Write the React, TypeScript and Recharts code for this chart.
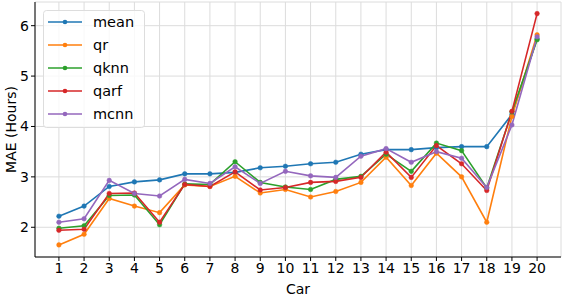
import {
  LineChart,
  Line,
  XAxis,
  YAxis,
  CartesianGrid,
} from "recharts";

const cars = [1, 2, 3, 4, 5, 6, 7, 8, 9, 10, 11, 12, 13, 14, 15, 16, 17, 18, 19, 20];

const mean = [2.22, 2.42, 2.81, 2.9, 2.94, 3.06, 3.06, 3.09, 3.18, 3.21, 3.26, 3.29, 3.45, 3.54, 3.54, 3.58, 3.6, 3.6, 4.24, 5.74];
const qr = [1.65, 1.86, 2.57, 2.42, 2.29, 2.84, 2.81, 3.01, 2.68, 2.75, 2.6, 2.71, 2.89, 3.39, 2.83, 3.47, 3.0, 2.1, 4.2, 5.82];
const qknn = [1.98, 2.03, 2.63, 2.64, 2.05, 2.86, 2.85, 3.3, 2.89, 2.8, 2.75, 2.95, 3.01, 3.45, 3.11, 3.67, 3.52, 2.78, 4.29, 5.72];
const qarf = [1.94, 1.96, 2.67, 2.68, 2.1, 2.85, 2.81, 3.1, 2.74, 2.79, 2.89, 2.91, 2.99, 3.49, 2.99, 3.62, 3.26, 2.73, 4.3, 6.24];
const mcnn = [2.1, 2.17, 2.93, 2.67, 2.62, 2.95, 2.87, 3.2, 2.87, 3.11, 3.02, 2.99, 3.41, 3.56, 3.29, 3.5, 3.37, 2.79, 4.03, 5.78];

const yTicks = [2, 3, 4, 5, 6];

const series = [
  { key: "mean", color: "#1f77b4" },
  { key: "qr", color: "#ff7f0e" },
  { key: "qknn", color: "#2ca02c" },
  { key: "qarf", color: "#d62728" },
  { key: "mcnn", color: "#9467bd" },
];

const data = cars.map((car, i) => ({
  car,
  mean: mean[i],
  qr: qr[i],
  qknn: qknn[i],
  qarf: qarf[i],
  mcnn: mcnn[i],
}));

const font = "DejaVu Sans, sans-serif";

function LegendBox() {
  return (
    <svg width={102} height={118} style={{ position: "absolute", left: 43, top: 10 }}>
      <rect x={0.5} y={0.5} width={101} height={117} rx={3} fill="#fff" fillOpacity={0.8} stroke="#ddd" />
      {series.map((s, i) => {
        const y = 12 + i * 23;
        return (
          <g key={s.key}>
            <line x1={5} x2={39} y1={y} y2={y} stroke={s.color} strokeWidth={1.6} />
            <circle cx={22} cy={y} r={2.3} fill={s.color} />
            <text x={50} y={y + 5} fontSize={14.5} fontFamily={font} fill="#000">
              {s.key}
            </text>
          </g>
        );
      })}
    </svg>
  );
}

const yLabel = (props: any) => {
  const vb = props.viewBox;
  const cy = vb.y + vb.height / 2;
  return (
    <text
      x={11}
      y={cy}
      transform={`rotate(-90 11 ${cy})`}
      textAnchor="middle"
      dominantBaseline="central"
      fontSize={14}
      fontFamily={font}
      fill="#000"
    >
      MAE (Hours)
    </text>
  );
};

export default function App() {
  return (
    <div style={{ position: "absolute", left: 0, top: 0, background: "#fff" }}>
      <LineChart
        width={562}
        height={296}
        data={data}
        margin={{ top: 2, right: 1, left: 5, bottom: 0 }}
      >
        <CartesianGrid stroke="#dcdcdc" strokeWidth={1} />
        <XAxis
          dataKey="car"
          type="number"
          domain={[0.05, 20.95]}
          ticks={cars}
          interval={0}
          height={39}
          allowDataOverflow
          axisLine={{ stroke: "#000" }}
          tickLine={{ stroke: "#000" }}
          tickSize={4}
          tick={{ fill: "#000", fontSize: 14, fontFamily: font }}
          label={{ value: "Car", position: "insideBottom", offset: 2, fill: "#000", fontSize: 14, fontFamily: font }}
        />
        <XAxis
          xAxisId="top"
          orientation="top"
          dataKey="car"
          type="number"
          domain={[0.05, 20.95]}
          height={0}
          tick={false}
          tickLine={false}
          axisLine={{ stroke: "#000" }}
        />
        <YAxis
          domain={[1.41, 6.47]}
          ticks={yTicks}
          width={30}
          allowDataOverflow
          axisLine={{ stroke: "#000" }}
          tickLine={{ stroke: "#000" }}
          tickSize={4}
          tick={{ fill: "#000", fontSize: 14, fontFamily: font }}
          label={yLabel}
        />
        <YAxis
          yAxisId="right"
          orientation="right"
          domain={[1.41, 6.47]}
          width={0}
          tick={false}
          tickLine={false}
          axisLine={{ stroke: "#000" }}
        />
        {series.map((s) => (
          <Line
            key={s.key}
            type="linear"
            dataKey={s.key}
            stroke={s.color}
            strokeWidth={1.6}
            dot={{ r: 2.3, fill: s.color, stroke: s.color, strokeWidth: 0.5 }}
            activeDot={false}
            isAnimationActive={false}
          />
        ))}
      </LineChart>
      <LegendBox />
    </div>
  );
}
